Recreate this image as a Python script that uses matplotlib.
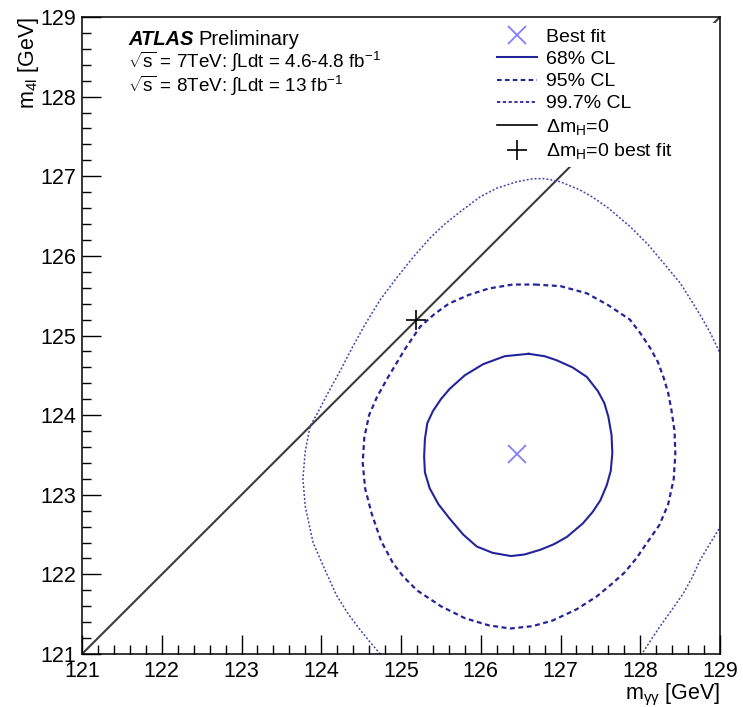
#!/usr/bin/env python3
"""ATLAS mass-compatibility contours, m_4l vs m_gammagamma."""
import matplotlib
matplotlib.use("Agg")
import matplotlib.pyplot as plt
from matplotlib.lines import Line2D
from matplotlib.ticker import AutoMinorLocator

plt.rcParams.update({
    "font.family": ["Liberation Sans", "DejaVu Sans"],
    "mathtext.fontset": "custom",
    "mathtext.rm": "Liberation Sans",
    "mathtext.it": "Liberation Sans:italic",
    "mathtext.bf": "Liberation Sans:bold",
})

# contour points (m_yy, m_4l) in GeV
cl68_x = [126.60, 126.80, 126.95, 127.15, 127.33, 127.47, 127.55, 127.60, 127.64,
          127.65, 127.63, 127.58, 127.50, 127.40, 127.28, 127.08, 126.92, 126.75,
          126.55, 126.38, 126.15, 125.95, 125.78, 125.61, 125.47, 125.36, 125.30,
          125.29, 125.30, 125.33, 125.40, 125.50, 125.61, 125.80, 126.03, 126.30,
          126.60]
cl68_y = [124.77, 124.74, 124.69, 124.60, 124.48, 124.30, 124.15, 123.98, 123.75,
          123.52, 123.30, 123.12, 122.93, 122.78, 122.64, 122.47, 122.38, 122.31,
          122.25, 122.23, 122.27, 122.35, 122.50, 122.70, 122.88, 123.08, 123.28,
          123.48, 123.70, 123.90, 124.05, 124.20, 124.33, 124.50, 124.64, 124.74,
          124.77]

cl95_x = [126.68, 127.00, 127.33, 127.60, 127.87, 128.00, 128.12, 128.22, 128.29,
          128.35, 128.39, 128.43, 128.44, 128.42, 128.35, 128.24, 128.08, 127.95,
          127.80, 127.62, 127.45, 127.20, 126.90, 126.65, 126.37, 126.10, 125.80,
          125.50, 125.20, 125.03, 124.90, 124.75, 124.63, 124.55, 124.52, 124.54,
          124.60, 124.70, 124.84, 125.05, 125.24, 125.42, 125.60, 125.85, 126.10,
          126.40, 126.68]
cl95_y = [125.64, 125.62, 125.53, 125.38, 125.20, 125.03, 124.85, 124.67, 124.48,
          124.28, 124.07, 123.80, 123.52, 123.20, 122.88, 122.62, 122.39, 122.20,
          122.02, 121.86, 121.72, 121.56, 121.42, 121.35, 121.32, 121.36, 121.45,
          121.60, 121.80, 121.97, 122.14, 122.42, 122.77, 123.08, 123.40, 123.72,
          124.00, 124.23, 124.48, 124.83, 125.11, 125.27, 125.40, 125.51, 125.59,
          125.64, 125.64]

# 99.7% contour leaves the frame; two visible pieces
cl997a_x = [129.08, 128.99, 128.88, 128.75, 128.62, 128.50, 128.30, 128.10, 127.87,
            127.60, 127.40, 127.24, 127.00, 126.80, 126.66, 126.45, 126.20, 125.99,
            125.75, 125.55, 125.36, 125.15, 124.95, 124.74, 124.55, 124.40, 124.25,
            124.08, 123.95, 123.86, 123.80, 123.77, 123.80, 123.90, 124.05, 124.19,
            124.34, 124.49, 124.62, 124.74, 124.80]
cl997a_y = [124.62, 124.80, 125.03, 125.26, 125.47, 125.66, 125.90, 126.14, 126.37,
            126.60, 126.74, 126.83, 126.93, 126.97, 126.97, 126.93, 126.85, 126.74,
            126.56, 126.40, 126.22, 125.98, 125.73, 125.45, 125.14, 124.87, 124.58,
            124.27, 124.02, 123.86, 123.55, 123.20, 122.85, 122.39, 122.05, 121.74,
            121.50, 121.30, 121.14, 121.00, 120.90]
cl997b_x = [127.95, 128.02, 128.13, 128.25, 128.40, 128.54, 128.65, 128.75, 128.87,
            128.98, 129.05]
cl997b_y = [120.90, 121.00, 121.17, 121.35, 121.56, 121.76, 121.96, 122.18, 122.38,
            122.56, 122.70]

best_fit = (126.46, 123.51)
best_fit_dm0 = (125.19, 125.20)
mass_range = [121, 129]

BLUE = "#24249a"
DOT_BLUE = "#4444b0"

fig = plt.figure(figsize=(7.43, 7.07), dpi=100)
ax = fig.add_axes([82 / 743, 53 / 707, 638 / 743, 637 / 707])

ax.plot(mass_range, mass_range, color="#3a3a3a", lw=1.5, zorder=2)
ax.plot(cl68_x, cl68_y, color=BLUE, lw=1.5, solid_joinstyle="round")
ax.plot(cl95_x, cl95_y, color=BLUE, lw=1.6, ls=(0, (2.2, 1.6)))
ax.plot(cl997a_x, cl997a_y, color=DOT_BLUE, lw=1.1, ls=(0, (1.3, 1.3)))
ax.plot(cl997b_x, cl997b_y, color=DOT_BLUE, lw=1.1, ls=(0, (1.3, 1.3)))
ax.plot(*best_fit, ls="none", marker="x", color="#7f7fff", ms=13, mew=1.3)
ax.plot(*best_fit_dm0, ls="none", marker="+", color="k", ms=15, mew=1.2, zorder=3)

ax.set_xlim(*mass_range)
ax.set_ylim(*mass_range)
ax.set_xticks(range(121, 130))
ax.set_yticks(range(121, 130))
ax.xaxis.set_minor_locator(AutoMinorLocator(5))
ax.yaxis.set_minor_locator(AutoMinorLocator(5))
ax.tick_params(which="both", direction="in", width=1.0, labelsize=15.5)
ax.tick_params(which="major", length=14, pad=4)
ax.tick_params(which="minor", length=6.5)
ax.tick_params(axis="x", pad=5)
for s in ax.spines.values():
    s.set_linewidth(1.1)

ax.set_xlabel(r"m$_{\mathrm{\gamma\gamma}}$ [GeV]", fontsize=15.5, ha="right",
              x=1.0, labelpad=0)
ax.set_ylabel(r"m$_{\mathrm{4l}}$ [GeV]", fontsize=15.5, ha="right", y=1.0,
              labelpad=0)

t1 = ax.text(0.072, 0.956, "ATLAS", transform=ax.transAxes, fontsize=14.5,
             fontweight="bold", fontstyle="italic", va="baseline")
ax.annotate("Preliminary", xy=(1, 0), xycoords=t1, xytext=(4, 0),
            textcoords="offset points", fontsize=14.5, va="bottom")
ax.text(0.072, 0.920, r"$\sqrt{\mathrm{s}}$ = 7TeV: $\int$Ldt = 4.6-4.8 fb$^{-1}$",
        transform=ax.transAxes, fontsize=13.6, va="baseline")
ax.text(0.072, 0.882, r"$\sqrt{\mathrm{s}}$ = 8TeV: $\int$Ldt = 13 fb$^{-1}$",
        transform=ax.transAxes, fontsize=13.6, va="baseline")

handles = [
    Line2D([], [], ls="none", marker="x", color="#7f7fff", ms=13, mew=1.3),
    Line2D([], [], color=BLUE, lw=1.5),
    Line2D([], [], color=BLUE, lw=1.5, ls=(0, (2.2, 1.6))),
    Line2D([], [], color=BLUE, lw=1.3, ls=(0, (1.8, 1.4))),
    Line2D([], [], color="k", lw=1.2),
    Line2D([], [], ls="none", marker="+", color="k", ms=15, mew=1.2),
]
labels = ["Best fit", "68% CL", "95% CL", "99.7% CL",
          r"$\Delta$m$_{\mathrm{H}}$=0", r"$\Delta$m$_{\mathrm{H}}$=0 best fit"]
leg = ax.legend(handles, labels, loc="upper left",
                bbox_to_anchor=(0.641, 0.60, 0.352, 0.391), mode="expand",
                borderaxespad=0, borderpad=0.3, fontsize=14, handlelength=2.05,
                handletextpad=0.5, labelspacing=0.23, frameon=True,
                fancybox=False, framealpha=1, facecolor="white", edgecolor="none")

fig.savefig("out.png", dpi=100)
